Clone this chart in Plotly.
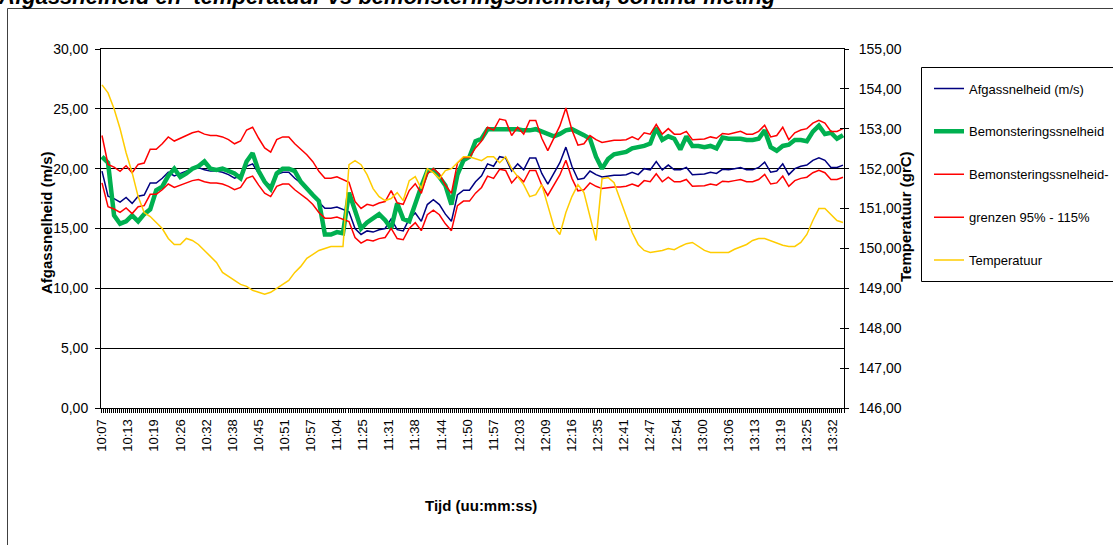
import plotly.graph_objects as go

# ---------------- data ----------------
N_CATEGORIES = 370          # number of time samples on the category axis
LABEL_EVERY = 13            # a time label every 13 samples
SAMPLE_STEP = 3             # values below were read every 3rd sample

time_labels = ["10:07", "10:13", "10:19", "10:26", "10:32", "10:38", "10:45", "10:51",
               "10:57", "11:04", "11:25", "11:31", "11:38", "11:44", "11:50", "11:57",
               "12:03", "12:09", "12:16", "12:35", "12:41", "12:47", "12:54", "13:00",
               "13:06", "13:13", "13:19", "13:25", "13:32"]

afgassnelheid = [
    19.8, 17.7, 17.5, 17.2, 17.6, 17.1, 17.7, 17.8, 18.8, 18.8,
    19.2, 19.7, 19.4, 19.6, 19.8, 20.0, 20.1, 19.9, 19.8, 19.8,
    19.7, 19.5, 19.2, 19.4, 20.2, 20.4, 19.6, 18.9, 18.6, 19.5,
    19.7, 19.7, 19.2, 18.8, 18.4, 17.9, 17.2, 16.7, 16.7, 16.8,
    16.6, 16.4, 15.0, 14.5, 14.8, 14.7, 14.9, 15.0, 15.8, 14.9,
    14.8, 15.8, 16.3, 15.6, 17.0, 17.4, 17.0, 16.2, 15.6, 17.8,
    18.2, 18.2, 18.9, 19.4, 20.4, 20.2, 21.0, 20.9, 19.8, 20.4,
    19.9, 20.9, 20.9, 19.6, 18.7, 19.6, 20.5, 21.8, 20.2, 19.1,
    19.2, 19.8, 19.5, 19.3, 19.4, 19.45, 19.45, 19.5, 19.7, 19.5,
    20.0, 19.9, 20.6, 19.9, 20.3, 19.9, 19.9, 20.1, 19.5, 19.5,
    19.55, 19.7, 19.6, 19.95, 19.9, 20.0, 20.1, 19.9, 19.9, 20.1,
    20.55, 19.7, 19.8, 20.4, 19.5, 20.0, 20.2, 20.3, 20.7, 20.9,
    20.7, 20.1, 20.1, 20.3]

bemonsteringssnelheid = [
    21.0, 20.5, 16.1, 15.4, 15.6, 16.1, 15.6, 16.2, 16.6, 18.2,
    18.5, 19.4, 20.0, 19.3, 19.6, 20.0, 20.2, 20.6, 20.0, 19.9,
    20.0, 19.8, 19.6, 19.2, 20.6, 21.3, 19.8, 18.9, 18.3, 19.6,
    20.0, 20.0, 19.8, 18.9, 18.3, 17.8, 17.3, 14.5, 14.5, 14.7,
    14.6, 18.0, 16.5, 15.0, 15.5, 15.9, 16.2, 15.7, 15.0, 17.1,
    15.8, 15.6, 17.2, 18.5, 19.8, 19.9, 19.3, 18.6, 17.0, 19.5,
    20.7, 21.0, 22.3, 22.5, 23.3, 23.3, 23.3, 23.3, 23.3, 23.3,
    23.2, 23.2, 23.3, 23.1, 23.0, 22.7, 22.9, 23.2, 23.3, 23.1,
    22.8, 22.5, 21.0, 20.0, 20.8, 21.2, 21.3, 21.4, 21.7, 21.8,
    21.9, 22.1, 23.4, 22.4, 22.7, 22.5, 21.6, 22.7, 21.9, 21.9,
    21.8, 21.9, 21.7, 22.6, 22.5, 22.5, 22.5, 22.4, 22.4, 22.5,
    23.2, 21.8, 21.5, 21.9, 22.0, 22.4, 22.4, 22.3, 23.1, 23.6,
    22.9, 23.0, 22.5, 22.8]

temperatuur = [
    154.1, 153.9, 153.5, 153.0, 152.4, 151.9, 151.3, 150.9, 150.8, 150.65,
    150.5, 150.25, 150.1, 150.1, 150.25, 150.2, 150.1, 149.95, 149.8, 149.65,
    149.4, 149.3, 149.2, 149.1, 149.05, 148.95, 148.9, 148.85, 148.9, 149.0,
    149.1, 149.2, 149.4, 149.55, 149.75, 149.85, 149.95, 150.0, 150.05, 150.05,
    150.05, 152.1, 152.2, 152.1, 151.85, 151.5, 151.3, 151.2, 151.25, 151.4,
    151.2, 151.7, 151.8, 151.5, 152.0, 151.9, 151.75, 151.95, 152.0, 152.15,
    152.3, 152.3, 152.25, 152.2, 152.3, 152.3, 152.15, 152.3, 152.0, 151.8,
    151.6, 151.3, 151.35, 151.6, 151.1, 150.55, 150.35, 150.9, 151.3, 151.6,
    151.4, 150.8, 150.2, 151.75, 151.78, 151.65, 151.25, 150.8, 150.4, 150.1,
    149.95, 149.9, 149.92, 149.95, 150.0, 149.97, 150.05, 150.12, 150.15, 150.05,
    149.95, 149.9, 149.9, 149.9, 149.9, 149.98, 150.05, 150.1, 150.2, 150.25,
    150.25, 150.2, 150.15, 150.08, 150.05, 150.05, 150.15, 150.35, 150.7, 151.0,
    151.0, 150.85, 150.7, 150.65]

LOWER_FACTOR = 0.95   # grenzen 95% - 115%
UPPER_FACTOR = 1.15

left_ticks = [0, 5, 10, 15, 20, 25, 30]
right_ticks = [146, 147, 148, 149, 150, 151, 152, 153, 154, 155]

# ---------------- geometry (page pixels) ----------------
W, H = 1113, 545
PL, PR, PT, PB = 101, 844, 49, 408      # plot area


def px_x(px):
    return (px - PL) / (PR - PL)


def px_y(py):
    return (PB - py) / (PB - PT)


x_idx = [SAMPLE_STEP * i for i in range(len(afgassnelheid))]
lower = [round(v * LOWER_FACTOR, 3) for v in afgassnelheid]
upper = [round(v * UPPER_FACTOR, 3) for v in afgassnelheid]
label_pos = [LABEL_EVERY * i for i in range(len(time_labels))]
boundaries = [c - 0.5 for c in range(N_CATEGORIES + 1)]

FONT = "Liberation Sans, Arial, Helvetica, sans-serif"

fig = go.Figure()
fig.add_trace(go.Scatter(x=x_idx, y=afgassnelheid, mode="lines", name="Afgassnelheid (m/s)",
                         legendgroup="g1", line=dict(color="#000080", width=1.5)))
fig.add_trace(go.Scatter(x=x_idx, y=bemonsteringssnelheid, mode="lines", name="Bemonsteringssnelheid",
                         legendgroup="g2", line=dict(color="#00B050", width=4.5)))
fig.add_trace(go.Scatter(x=x_idx, y=lower, mode="lines", name="Bemonsteringssnelheid-",
                         legendgroup="g3", line=dict(color="#FF0000", width=1.5)))
fig.add_trace(go.Scatter(x=x_idx, y=upper, mode="lines", name="grenzen 95% - 115%",
                         legendgroup="g4", line=dict(color="#FF0000", width=1.5)))
fig.add_trace(go.Scatter(x=x_idx, y=temperatuur, mode="lines", name="Temperatuur", yaxis="y2",
                         legendgroup="g5", line=dict(color="#FFCC00", width=1.5)))
# helper (empty) traces so that the label axis and the inner-tick axis are drawn
fig.add_trace(go.Scatter(x=[None], y=[None], xaxis="x2", yaxis="y", showlegend=False, hoverinfo="skip"))
fig.add_trace(go.Scatter(x=[None], y=[None], yaxis="y3", showlegend=False, hoverinfo="skip"))

fig.update_layout(
    template="none",
    width=W, height=H,
    margin=dict(l=PL, r=W - PR, t=PT, b=H - PB, pad=0, autoexpand=False),
    paper_bgcolor="white", plot_bgcolor="white",
    separators=",.",
    font=dict(family=FONT, color="black", size=13),
    showlegend=True,
    hovermode=False,
    legend=dict(xref="container", yref="container",
                x=929 / W, y=1 - 73.5 / H,
                xanchor="left", yanchor="top",
                traceorder="grouped", tracegroupgap=23,
                font=dict(family=FONT, size=13, color="black"),
                bgcolor="rgba(0,0,0,0)", borderwidth=0),
    xaxis=dict(range=[-0.5, N_CATEGORIES - 0.5], tickmode="array", tickvals=boundaries,
               ticktext=[""] * len(boundaries), showticklabels=False,
               ticks="outside", ticklen=4, tickcolor="black", tickwidth=1,
               showline=True, linecolor="black", linewidth=1, mirror=True,
               showgrid=False, zeroline=False, automargin=False),
    xaxis2=dict(overlaying="x", side="bottom", range=[-0.5, N_CATEGORIES - 0.5],
                tickmode="array", tickvals=label_pos, ticktext=time_labels, tickangle=-90,
                ticks="outside", ticklen=5, tickcolor="rgba(0,0,0,0)",
                tickfont=dict(size=13, family=FONT, color="black"),
                showline=False, showgrid=False, zeroline=False, automargin=False),
    yaxis=dict(range=[0, 30], tickmode="array", tickvals=left_ticks, tickformat=".2f",
               ticks="outside", ticklen=5, tickcolor="black", showline=True,
               linecolor="black", linewidth=1, showgrid=True, gridcolor="black",
               gridwidth=1, zeroline=False, tickfont=dict(size=14), automargin=False,
               ticklabelstandoff=4),
    yaxis2=dict(range=[146, 155], overlaying="y", side="right", tickmode="array",
                tickvals=right_ticks, tickformat=".2f", ticks="outside", ticklen=4,
                tickcolor="black", showline=True, linecolor="black", linewidth=1,
                showgrid=False, zeroline=False, tickfont=dict(size=14), automargin=False,
                ticklabelstandoff=7),
    yaxis3=dict(range=[146, 155], overlaying="y", side="right", tickmode="array",
                tickvals=right_ticks, ticks="inside", ticklen=4, tickcolor="black",
                showticklabels=False, showline=False, showgrid=False, zeroline=False,
                automargin=False),
    shapes=[
        dict(type="rect", xref="paper", yref="paper", x0=px_x(7.5), y0=px_y(8.5),
             x1=px_x(1130), y1=px_y(570), line=dict(color="#404040", width=1)),
        dict(type="rect", xref="paper", yref="paper", x0=px_x(921.5), y0=px_y(67.5),
             x1=px_x(1130), y1=px_y(281.5), line=dict(color="black", width=1)),
    ],
    annotations=[
        dict(text="<b><i>Afgassnelheid en  temperatuur vs bemonsteringssnelheid, continu meting</i></b>",
             xref="paper", yref="paper", x=px_x(-4), y=px_y(11.5), xanchor="left", yanchor="bottom",
             showarrow=False, font=dict(size=22, family=FONT)),
        dict(text="<b>Afgassnelheid (m/s)</b>", xref="paper", yref="paper",
             x=px_x(46), y=px_y(222), xanchor="center", yanchor="middle", textangle=-90,
             showarrow=False, font=dict(size=15, family=FONT)),
        dict(text="<b>Temperatuur (grC)</b>", xref="paper", yref="paper",
             x=px_x(905), y=px_y(217), xanchor="center", yanchor="middle", textangle=-90,
             showarrow=False, font=dict(size=15, family=FONT)),
        dict(text="<b>Tijd (uu:mm:ss)</b>", xref="paper", yref="paper",
             x=px_x(481), y=px_y(506), xanchor="center", yanchor="middle",
             showarrow=False, font=dict(size=15, family=FONT)),
    ],
)

fig.write_html("out.html", config={"displayModeBar": False},
               post_script="document.body.style.margin='0';")
